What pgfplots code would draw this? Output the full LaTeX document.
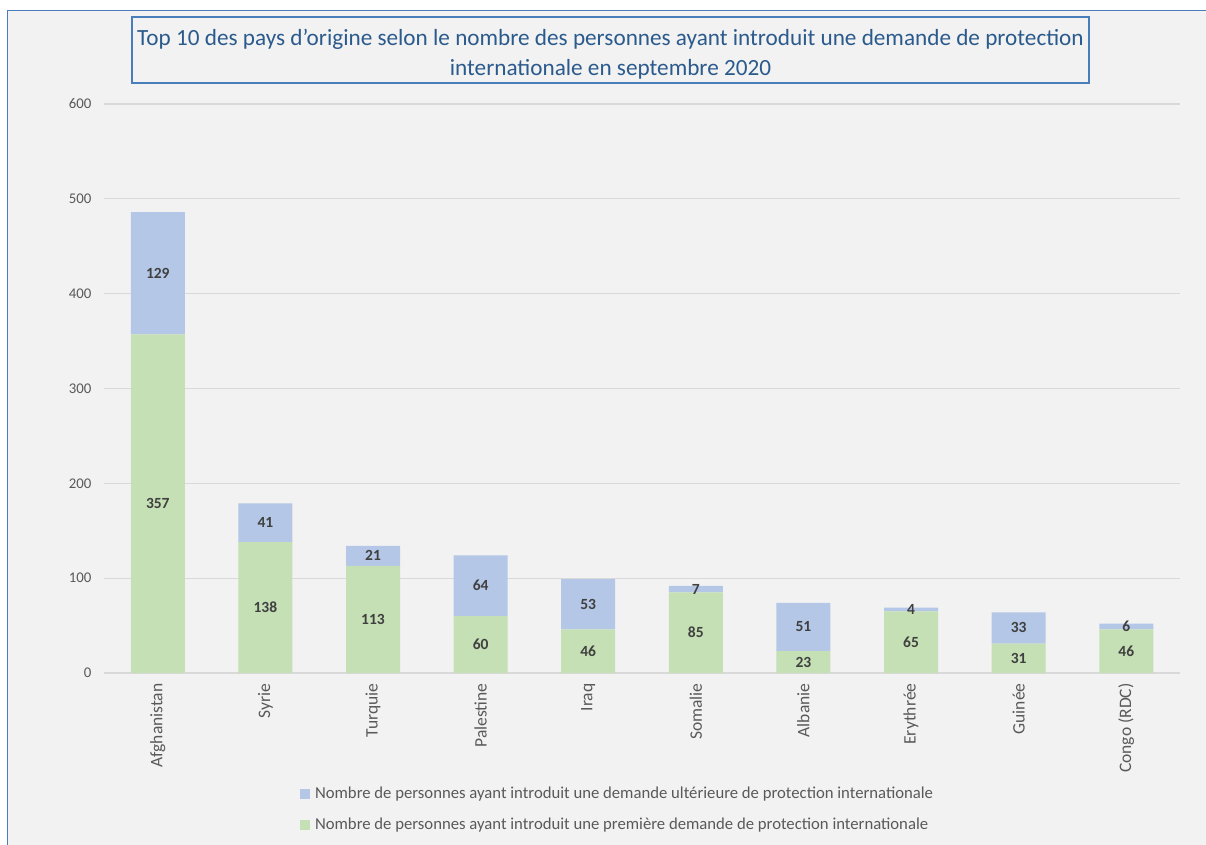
\documentclass[border=0pt]{standalone}
\usepackage{pgfplots}
\pgfplotsset{compat=1.18}
\usepackage{pgfplotstable}
\usepackage{fontspec}
\setmainfont{Carlito}

\definecolor{bgc}{HTML}{F2F2F2}
\definecolor{framec}{HTML}{4A7EBB}
\definecolor{titlec}{HTML}{2B5A8C}
\definecolor{firstc}{HTML}{C5E0B4}
\definecolor{laterc}{HTML}{B4C7E7}
\definecolor{gridc}{HTML}{D9D9D9}
\definecolor{txt}{HTML}{595959}
\definecolor{lab}{HTML}{404040}

% x: position, first: premiere demande, later: demande ulterieure
\pgfplotstableread{
x first later
0 357 129
1 138 41
2 113 21
3 60 64
4 46 53
5 85 7
6 23 51
7 65 4
8 31 33
9 46 6
}\data

\pgfplotsset{chartbox/.style={
  at={(104pt,171pt)}, anchor=south west,
  scale only axis, width=1076pt, height=569pt,
  xmin=-0.5, xmax=9.5, ymin=0, ymax=600,
  /pgf/number format/assume math mode=true}}

\begin{document}
\begin{tikzpicture}[x=1pt,y=1pt]
\path[use as bounding box] (0,0) rectangle (1206,844);
\fill[white] (0,0) rectangle (1206,844);
\filldraw[fill=bgc, draw=framec, line width=1.5pt] (7.5,-20) rectangle (1230,833.5);

\begin{axis}[
  chartbox,
  ybar stacked, bar width=54pt,
  ytick={0,100,...,600},
  xtick=data,
  xticklabels={Afghanistan,Syrie,Turquie,Palestine,Iraq,Somalie,Albanie,Erythrée,Guinée,Congo (RDC)},
  axis line style={draw=none}, major tick length=0pt,
  ymajorgrids, grid style={gridc, line width=1.2pt},
  ticklabel style={text=txt},
  yticklabel style={xshift=-9pt, font=\fontsize{14.8}{17}\selectfont},
  xticklabel style={rotate=90, anchor=east, xshift=-7pt, font=\fontsize{17.5}{20}\selectfont},
  reverse legend,
  legend cell align=left,
  legend style={at={(0.182,-0.197)}, anchor=north west, draw=none, fill=none,
    font=\fontsize{16.7}{19}\selectfont, text=txt, row sep=14pt, inner sep=0pt},
  legend image code/.code={\fill[#1] (0pt,-5pt) rectangle (10pt,5pt); \path (13pt,0pt);},
]
\addplot[fill=firstc, draw=none] table[x=x, y=first] {\data};
\addlegendentry{Nombre de personnes ayant introduit une première demande de protection internationale}
\addplot[fill=laterc, draw=none] table[x=x, y=later] {\data};
\addlegendentry{Nombre de personnes ayant introduit une demande ultérieure de protection internationale}
\end{axis}

% data labels, centred in each segment
\begin{axis}[chartbox, hide axis,
  nodes near coords, point meta=explicit,
  every node near coord/.append style={anchor=center, text=lab,
    font=\fontsize{15.5}{18}\selectfont\bfseries}]
\addplot[draw=none, mark=none] table[x=x, y expr=\thisrow{first}/2, meta=first] {\data};
\addplot[draw=none, mark=none] table[x=x, y expr=\thisrow{first}+\thisrow{later}/2, meta=later] {\data};
\end{axis}

\draw[framec, line width=1.3pt, fill=bgc] (132,761) rectangle (1089,827);
\node[align=center, text=titlec, font=\fontsize{23.2}{30}\selectfont] at (610.5,790)
  {Top 10 des pays d'origine selon le nombre des personnes ayant introduit une demande de protection\\
   internationale en septembre 2020};
\end{tikzpicture}
\end{document}
